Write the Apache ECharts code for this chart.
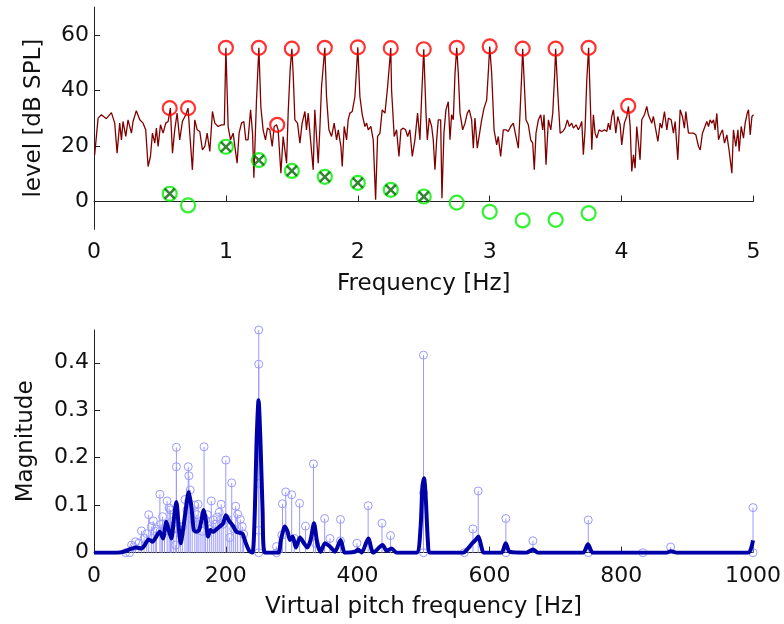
<!DOCTYPE html>
<html>
<head>
<meta charset="utf-8">
<script src="https://cdn.jsdelivr.net/npm/echarts@6/dist/echarts.min.js"></script>
<style>html,body{margin:0;padding:0;background:#fff}#c{width:784px;height:624px}</style>
</head>
<body>
<div id="c"></div>
<script>
// ---------- Top panel: spectrum level ----------
const specFreq = [0.005,0.031,0.056,0.094,0.132,0.157,0.175,0.195,0.208,0.220,0.241,0.258,0.284,0.296,0.321,0.347,0.372,0.392,0.410,0.428,0.443,0.461,0.473,0.486,0.504,0.524,0.544,0.562,0.579,0.595,0.612,0.630,0.650,0.670,0.696,0.713,0.726,0.746,0.764,0.782,0.802,0.822,0.840,0.858,0.878,0.898,0.916,0.941,0.966,0.988,1.0,
1.017,1.035,1.055,1.068,1.085,1.100,1.118,1.136,1.151,1.168,1.187,1.202,1.212,1.232,1.25,
1.265,1.282,1.300,1.315,1.333,1.351,1.366,1.384,1.396,1.417,1.434,1.447,1.460,1.472,1.487,1.5,1.510,1.523,1.543,1.561,1.578,1.599,1.611,1.624,1.644,1.662,1.674,1.687,1.700,1.712,1.725,1.75,1.763,1.781,1.801,1.821,1.839,1.852,1.872,1.882,1.897,1.915,1.927,1.940,1.958,1.978,2.0,2.016,2.034,2.054,2.067,2.079,2.099,2.117,2.135,2.150,2.168,2.185,2.206,2.226,2.25,2.256,2.276,2.294,2.312,2.327,2.345,2.362,2.378,2.395,2.413,2.433,2.453,2.471,2.484,2.5,
2.517,2.527,2.542,2.560,2.572,2.585,2.598,2.610,2.628,2.638,2.653,2.668,2.686,2.699,2.711,2.724,2.737,2.75,2.762,2.775,2.795,2.813,2.830,2.845,2.863,2.876,2.888,2.906,2.921,2.939,2.957,2.977,2.989,3.0,3.015,3.033,3.053,3.065,3.083,3.103,3.124,3.141,3.159,3.179,3.199,3.217,3.230,3.243,3.25,3.275,3.293,3.311,3.326,3.338,3.351,3.369,3.387,3.402,3.412,3.427,3.445,3.463,3.478,3.493,3.5,3.518,3.534,3.554,3.571,3.589,3.604,3.622,3.634,3.655,3.672,3.685,3.698,3.710,3.723,3.736,3.75,
3.774,3.786,3.799,3.812,3.829,3.850,3.870,3.888,3.900,3.913,3.925,3.938,3.956,3.971,3.989,4.001,4.021,4.039,4.052,4.065,4.077,4.090,4.102,4.115,4.128,4.140,4.153,4.173,4.191,4.203,4.216,4.229,4.241,4.254,4.275,4.292,4.305,4.325,4.343,4.355,4.376,4.393,4.406,4.426,4.444,4.461,4.476,4.487,4.507,4.527,4.545,4.563,4.583,4.596,4.613,4.628,4.646,4.659,4.671,4.684,4.697,4.709,4.722,4.735,4.747,4.765,4.780,4.798,4.816,4.836,4.848,4.866,4.882,4.891,4.907,4.924,4.937,4.952,4.962,4.975,4.988,5.0];
const specLevel = [16.8,30.0,31.2,29.8,32.0,28.2,17.4,28.2,22.2,28.8,23.4,29.4,24.6,28.8,32.7,29.4,28.2,25.8,12.6,16.2,24.6,21.0,26.4,19.8,27.6,24.6,28.2,28.8,33.6,17.4,25.8,31.8,22.2,28.8,31.2,33.6,24.6,11.4,29.4,25.8,25.2,18.6,19.8,24.6,18.0,32.4,28.2,27.0,27.6,27.6,55.3,
26.9,22.2,24.6,19.8,13.8,24.6,28.2,28.8,22.2,22.2,33.0,24.6,8.6,36.5,55.3,
34.1,25.8,22.2,26.4,25.8,19.8,27.0,27.6,25.8,10.2,23.4,23.4,13.8,31.8,47.3,55.0,46.1,29.4,28.2,21.0,28.2,32.4,25.8,31.8,21.0,11.4,33.0,33.6,13.8,25.8,41.3,55.3,37.7,25.8,23.4,28.2,22.2,25.8,19.8,12.6,27.0,22.2,29.4,31.8,32.4,37.7,55.5,37.7,31.2,27.0,28.2,25.8,27.0,22.2,0.6,23.4,24.6,33.0,31.8,41.3,55.2,40.1,23.4,25.8,16.2,25.8,26.4,25.8,23.4,25.8,16.2,22.2,31.8,22.2,37.7,54.8,
31.8,22.2,30.0,27.0,22.2,11.4,22.2,29.4,29.4,1.2,24.6,33.0,35.9,22.2,31.2,29.4,46.1,55.3,46.1,31.8,25.8,28.2,31.8,33.0,29.4,19.2,30.0,19.2,19.2,29.4,33.6,36.5,46.1,55.8,46.1,25.8,20.4,23.4,16.2,25.8,25.8,25.2,27.0,28.2,23.4,19.2,31.8,46.1,55.0,29.4,27.6,22.2,21.0,11.4,24.6,29.4,31.2,25.8,31.2,13.2,29.4,25.8,31.8,46.1,55.0,37.7,24.6,25.2,26.4,29.4,27.0,28.2,26.4,27.6,25.8,27.0,28.8,16.8,25.8,43.7,55.3,
18.6,31.2,24.6,22.8,25.8,25.2,25.8,25.2,28.2,25.8,30.6,33.0,24.6,30.6,27.6,20.4,28.2,30.6,34.2,27.0,10.8,16.8,12.0,27.0,27.6,15.0,29.4,31.2,34.2,31.2,30.6,28.2,30.6,30.0,21.6,28.2,26.4,32.4,25.8,30.0,29.4,24.6,28.8,15.0,33.0,30.6,26.4,32.4,24.6,24.6,24.6,24.0,19.8,18.6,24.6,24.0,28.8,27.0,29.4,28.2,29.4,25.8,31.7,22.2,24.0,25.8,21.0,24.0,18.0,10.2,25.8,19.8,25.8,18.0,27.0,22.8,28.2,31.7,33.0,24.0,30.6,31.2];

const peakFreq  = [0.574,0.713,1.0,1.25,1.389,1.5,1.75,2.0,2.25,2.5,2.75,3.0,3.25,3.5,3.75,4.05];
const peakLevel = [33.6,33.6,55.3,55.3,27.6,55.0,55.3,55.5,55.2,54.8,55.3,55.8,55.0,55.0,55.3,34.4];

const harmFreq  = [0.574,0.713,1.0,1.25,1.5,1.75,2.0,2.25,2.5,2.75,3.0,3.25,3.5,3.75];
const harmLevel = [2.8,-1.4,19.7,14.9,11.0,8.9,6.7,4.2,1.8,-0.4,-3.7,-6.8,-6.6,-4.2];

const crossFreq  = [0.574,1.0,1.25,1.5,1.75,2.0,2.25,2.5];
const crossLevel = [2.8,19.7,14.9,11.0,8.9,6.7,4.2,1.8];

const topYTicks = [0,20,40,60];

// ---------- Bottom panel: virtual pitch ----------
const stemFreq = [48,54,57,60,63,68,72,76,80,83,87,90,93,95,100,102,104,107,111,114,116,118,121,124,125,125,128,131,134,138,141,143,144,146,149,153,156,158,161,164,167,169,172,175,178,181,184,187,190,193,196,200,203,206,209,212,215,218,222,225,227,
250,250,250,250,250,277,277,285,286,291,300,304,312,321,333,336,350,358,374,374,399,416,437,450,500,500,500,562,575,583,625,625,666,750,750,833,875,1000,1000];
const stemMag = [0,0,0.016,0.012,0.023,0.020,0.046,0.030,0.040,0.080,0.055,0.067,0.045,0.050,0.123,0.060,0.076,0.045,0.109,0.094,0.090,0.065,0.050,0.016,0.181,0.222,0.050,0.040,0.055,0.112,0.090,0.181,0.162,0.132,0.070,0.100,0.080,0.102,0.060,0.045,0.223,0.069,0.080,0.050,0.109,0.069,0.060,0.075,0.085,0.102,0.060,0.195,0.070,0.032,0.147,0.050,0.098,0.081,0.070,0.055,0.039,
0,0.047,0.146,0.397,0.469,0,0.013,0.037,0.103,0.128,0.122,0.030,0.104,0.056,0.187,0.020,0.072,0.030,0.070,0.025,0.020,0.099,0.062,0.036,0,0.126,0.416,0,0.050,0.130,0,0.072,0.025,0,0.069,0,0.012,0,0.095];

const pitchFreq = [0,34,45,54,64,72,76,83,88.5,94.6,99.7,104.7,109.8,113.3,117.4,120.9,125,128.5,131.6,135.1,139.2,143.7,147.8,151.4,155.4,159.5,163,166.5,169.6,173.1,176.7,180.7,184.8,190.9,196,200,205.1,210.2,216.2,221.3,225.4,230.4,235.5,240.5,244.1,246.6,249.7,252.7,255.8,259.3,279.5,283.6,289.7,293.8,297.3,301.4,306.4,312.5,318.6,323.6,328.7,333.8,338.8,343.9,350.5,358,365.6,374.2,380.8,396,401,406.1,416.2,423.8,437.9,444,451.6,459.1,489.2,495.3,498.3,500.8,503.3,506.8,509.4,560,567.6,574.1,579.2,583.3,587.8,591.4,618.2,624.7,630.8,656,666.2,673.8,742,749.6,757.2,868.5,875.1,883.7,992.4,1000];
const pitchMag = [0,0,0.002,0.007,0.011,0.009,0.014,0.028,0.023,0.034,0.044,0.030,0.065,0.048,0.030,0.068,0.107,0.055,0.020,0.048,0.090,0.128,0.097,0.048,0.044,0.048,0.068,0.090,0.069,0.034,0.048,0.044,0.048,0.055,0.062,0.079,0.067,0.058,0.044,0.042,0.040,0.020,0.004,0,0.090,0.230,0.321,0.230,0.090,0,0,0.027,0.055,0.044,0.027,0.034,0.011,0.032,0.020,0.011,0.027,0.062,0.020,0.002,0.020,0.013,0.002,0.027,0,0.002,0.007,0,0.030,0,0.016,0.004,0.009,0,0,0.048,0.139,0.157,0.118,0.020,0,0,0.009,0.020,0.027,0.034,0.013,0,0,0.020,0.002,0,0.007,0,0,0.018,0,0,0.003,0,0,0.026];

const bottomYTicks = [0,0.1,0.2,0.3,0.4];

// ---------- build ----------
const zip = (a,b) => a.map((v,i)=>[v,b[i]]);
const FONT = 'DejaVu Sans';
const axisCommon = {
  axisLine:{show:true,lineStyle:{color:'#222',width:1}},
  axisTick:{show:true,inside:true,length:6,lineStyle:{color:'#222'}},
  splitLine:{show:false},
  nameTextStyle:{fontFamily:FONT,fontSize:23,color:'#111'},
};
const labelStyle = {fontFamily:FONT,fontSize:22,color:'#111'};
const plain = v => String(v);

const chart = echarts.init(document.getElementById('c'), null, {renderer:'canvas'});
const stemColor = '#9a9aff';

chart.setOption({
  animation:false,
  backgroundColor:'#fff',
  grid:[
    {left:94,top:7,width:659.5,height:222.3},
    {left:94,top:330,width:659.5,height:222.7}
  ],
  xAxis:[
    Object.assign({}, axisCommon, {gridIndex:0,type:'value',min:0,max:5,interval:1,
      name:'Frequency [Hz]',nameLocation:'middle',nameGap:43,
      axisLabel:Object.assign({margin:12,formatter:plain},labelStyle)}),
    Object.assign({}, axisCommon, {gridIndex:1,type:'value',min:0,max:1000,interval:200,
      name:'Virtual pitch frequency [Hz]',nameLocation:'middle',nameGap:43,
      axisLabel:Object.assign({margin:13,formatter:plain},labelStyle)})
  ],
  yAxis:[
    Object.assign({}, axisCommon, {gridIndex:0,type:'value',min:-10,max:70,
      name:'level [dB SPL]',nameLocation:'middle',nameGap:48,
      axisTick:Object.assign({}, axisCommon.axisTick, {customValues:topYTicks}),
      axisLabel:Object.assign({margin:5,customValues:topYTicks,formatter:plain},labelStyle)}),
    Object.assign({}, axisCommon, {gridIndex:1,type:'value',min:0,max:0.469,
      name:'Magnitude',nameLocation:'middle',nameGap:56,
      axisTick:Object.assign({}, axisCommon.axisTick, {customValues:bottomYTicks}),
      axisLabel:Object.assign({margin:5,customValues:bottomYTicks,
        formatter:v=> v===0?'0':(+v).toFixed(1)},labelStyle)})
  ],
  series:[
    {type:'line',xAxisIndex:0,yAxisIndex:0,data:zip(specFreq,specLevel),showSymbol:false,
      lineStyle:{color:'#800000',width:1.3},z:2},
    {type:'scatter',xAxisIndex:0,yAxisIndex:0,data:zip(peakFreq,peakLevel),symbol:'circle',symbolSize:14,
      itemStyle:{color:'rgba(0,0,0,0)',borderColor:'#ff0000',borderWidth:2.2},z:3},
    {type:'scatter',xAxisIndex:0,yAxisIndex:0,data:zip(harmFreq,harmLevel),symbol:'circle',symbolSize:14,
      itemStyle:{color:'rgba(0,0,0,0)',borderColor:'#00ee00',borderWidth:2.2},z:3},
    {type:'scatter',xAxisIndex:0,yAxisIndex:0,data:zip(crossFreq,crossLevel),symbol:'path://M0,0L10,10M10,0L0,10',symbolSize:10,
      itemStyle:{color:'rgba(0,0,0,0)',borderColor:'#006400',borderWidth:2.5},z:4},
    {type:'custom',xAxisIndex:1,yAxisIndex:1,data:zip(stemFreq,stemMag),z:2,
      renderItem:function(params,api){
        const x=api.value(0), y=api.value(1);
        const top=api.coord([x,y]), base=api.coord([x,0]);
        return {type:'group',children:[
          {type:'line',shape:{x1:base[0],y1:base[1],x2:top[0],y2:top[1]},style:{stroke:stemColor,lineWidth:1}},
          {type:'circle',shape:{cx:top[0],cy:top[1],r:4},style:{fill:'none',stroke:stemColor,lineWidth:1}}
        ]};
      }},
    {type:'line',xAxisIndex:1,yAxisIndex:1,data:zip(pitchFreq,pitchMag),showSymbol:false,smooth:0.25,
      lineStyle:{color:'#0000a8',width:4},z:3}
  ]
});
</script>
</body>
</html>
